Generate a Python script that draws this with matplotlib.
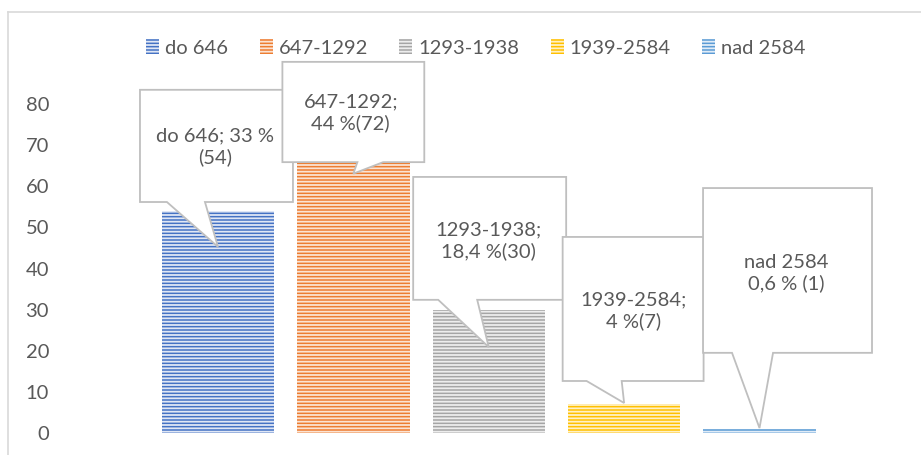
import matplotlib
matplotlib.use("Agg")
import matplotlib.pyplot as plt
from matplotlib.patches import Polygon
from matplotlib.lines import Line2D


categories = ['do 646', '647-1292', '1293-1938', '1939-2584', 'nad 2584']
counts = [54, 72, 30, 7, 1]
callout_texts = ['do 646; 33 %\n(54)', '647-1292;\n44 %(72)',
                 '1293-1938;\n18,4 %(30)', '1939-2584;\n4 %(7)',
                 'nad 2584\n0,6 % (1)']

COLORS = ['#4472C4', '#ED7D31', '#A5A5A5', '#FFC000', '#5B9BD5']
STRIPES = ['#E0E7F5', '#FBE3D3', '#EDEDED', '#FFF1C6', '#E1ECF7']
TEXT = '#595959'
BORDER = '#BFBFBF'

# callout layout relative to the bar centre:
# left, right, top, bottom, pointer base left, pointer base right, tip y, text dx, text y
CALLOUT_LAYOUT = [
    (-0.576, 0.554, 83.5, 56.2, -0.377, -0.096, 45.3, -0.02, 69.6),
    (-0.524, 0.524, 90.3, 65.9, 0.03, 0.22, 63.1, -0.02, 77.9),
    (-0.558, 0.572, 62.3, 32.4, -0.373, -0.085, 20.9, 0.0, 46.7),
    (-0.454, 0.587, 47.7, 12.65, -0.277, -0.018, 7.3, 0.07, 29.7),
    (-0.417, 0.831, 59.6, 19.5, -0.203, 0.10, 1.2, 0.20, 38.9),
]

plt.rcParams['font.family'] = ['Lato', 'DejaVu Sans']
plt.rcParams['hatch.linewidth'] = 1.3
FS = 14.5

fig = plt.figure(figsize=(9.21, 4.55), dpi=100)
ax = fig.add_axes([0.1558, 0.0484, 0.7497, 0.7226])

x_pos = list(range(len(categories)))
for i, cat in enumerate(categories):
    ax.bar(x_pos[i], counts[i], width=0.83, color=COLORS[i],
           edgecolor=STRIPES[i], linewidth=0, hatch='-----',
           label=cat, zorder=2)

ax.set_xlim(-0.55, 4.55)
ax.set_ylim(0, 80)
ax.set_yticks(range(0, 81, 10))
ax.set_xticks([])
ax.tick_params(axis='y', length=0, pad=68, labelsize=FS, labelcolor=TEXT)
for side in ax.spines.values():
    side.set_visible(False)

# callouts with pointers
for i, (l, r, t, b, b1, b2, tip, tdx, ty) in enumerate(CALLOUT_LAYOUT):
    xc = x_pos[i]
    pts = [(xc + l, t), (xc + r, t), (xc + r, b), (xc + b2, b),
           (xc, tip), (xc + b1, b), (xc + l, b)]
    ax.add_patch(Polygon(pts, closed=True, facecolor='white',
                         edgecolor=BORDER, linewidth=1.3,
                         clip_on=False, zorder=5 + i))
    ax.text(xc + tdx, ty, callout_texts[i], ha='center', va='center',
            fontsize=FS, color=TEXT, linespacing=1.25,
            zorder=5 + i, clip_on=False)

leg = fig.legend(loc='center', bbox_to_anchor=(476 / 921, 1 - 48 / 455),
                 ncol=5, frameon=False, fontsize=FS, handlelength=0.65,
                 handleheight=0.75, handletextpad=0.3, columnspacing=1.55,
                 borderpad=0)
for txt in leg.get_texts():
    txt.set_color(TEXT)

# chart area border
fig.add_artist(Line2D([7.5 / 921, 7.5 / 921], [0, 1 - 12 / 455],
                      color='#D9D9D9', linewidth=1.2))
fig.add_artist(Line2D([7.5 / 921, 1], [1 - 12 / 455, 1 - 12 / 455],
                      color='#D9D9D9', linewidth=1.2))

fig.savefig('out.png', dpi=100, facecolor='white')
